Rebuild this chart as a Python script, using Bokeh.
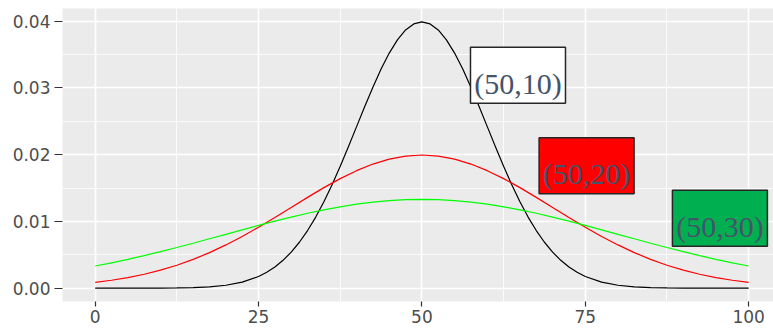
from bokeh.plotting import figure
from bokeh.models import Range1d, FixedTicker
from bokeh.core.properties import value
from bokeh.embed import file_html
from bokeh.resources import INLINE

# ---- data ----
x_vals = [0, 2.5, 5, 7.5, 10, 12.5, 15, 17.5, 20, 22.5, 25, 27.5, 30, 32.5, 35, 37.5, 40,
          42.5, 45, 47.5, 50, 52.5, 55, 57.5, 60, 62.5, 65, 67.5, 70, 72.5, 75, 77.5, 80,
          82.5, 85, 87.5, 90, 92.5, 95, 97.5, 100]

# black curve sampled more finely around its peak
x_sd10 = [0, 2.5, 5, 7.5, 10, 12.5, 15, 17.5, 20, 22.5,
          25, 26.25, 27.5, 28.75, 30, 31.25, 32.5, 33.75, 35, 36.25, 37.5, 38.75, 40,
          41.25, 42.5, 43.75, 45, 46.25, 47.5, 48.75, 50, 51.25, 52.5, 53.75, 55, 56.25,
          57.5, 58.75, 60, 61.25, 62.5, 63.75, 65, 66.25, 67.5, 68.75, 70, 71.25, 72.5,
          73.75, 75,
          77.5, 80, 82.5, 85, 87.5, 90, 92.5, 95, 97.5, 100]

sd10 = [0.00000, 0.00000, 0.00000, 0.00000, 0.00001, 0.00004, 0.00009, 0.00020, 0.00044,
        0.00091,
        0.00175, 0.00238, 0.00317, 0.00417, 0.00540, 0.00688, 0.00863, 0.01065, 0.01295,
        0.01550, 0.01826, 0.02119, 0.02420, 0.02721, 0.03011, 0.03282, 0.03521, 0.03719,
        0.03867, 0.03958, 0.03989, 0.03958, 0.03867, 0.03719, 0.03521, 0.03282, 0.03011,
        0.02721, 0.02420, 0.02119, 0.01826, 0.01550, 0.01295, 0.01065, 0.00863, 0.00688,
        0.00540, 0.00417, 0.00317, 0.00238, 0.00175,
        0.00091, 0.00044, 0.00020, 0.00009, 0.00004, 0.00001, 0.00000, 0.00000, 0.00000,
        0.00000]

sd20 = [0.00088, 0.00119, 0.00159, 0.00209, 0.00270, 0.00344, 0.00431, 0.00533, 0.00648,
        0.00775, 0.00913, 0.01059, 0.01210, 0.01360, 0.01506, 0.01641, 0.01760, 0.01859,
        0.01933, 0.01979, 0.01995, 0.01979, 0.01933, 0.01859, 0.01760, 0.01641, 0.01506,
        0.01360, 0.01210, 0.01059, 0.00913, 0.00775, 0.00648, 0.00533, 0.00431, 0.00344,
        0.00270, 0.00209, 0.00159, 0.00119, 0.00088]

sd30 = [0.00332, 0.00380, 0.00432, 0.00488, 0.00547, 0.00609, 0.00673, 0.00740, 0.00807,
        0.00874, 0.00940, 0.01004, 0.01065, 0.01122, 0.01174, 0.01219, 0.01258, 0.01289,
        0.01311, 0.01325, 0.01330, 0.01325, 0.01311, 0.01289, 0.01258, 0.01219, 0.01174,
        0.01122, 0.01065, 0.01004, 0.00940, 0.00874, 0.00807, 0.00740, 0.00673, 0.00609,
        0.00547, 0.00488, 0.00432, 0.00380, 0.00332]

x_ticks = [0, 25, 50, 75, 100]
y_ticks = [0.00, 0.01, 0.02, 0.03, 0.04]
y_tick_labels = {0.00: "0.00", 0.01: "0.01", 0.02: "0.02", 0.03: "0.03", 0.04: "0.04"}

box_texts = ["(50,10)", "(50,20)", "(50,30)"]

# ---- annotation placement (data coords of box centres) and styles ----
box_x = [64.7, 75.2, 95.6]
box_y = [0.0319, 0.01835, 0.01049]
box_fill = ["#FFFFFF", "#FF0000", "#00B050"]

p = figure(width=773, height=331, output_backend="svg", toolbar_location=None,
           x_range=Range1d(-5, 103.8), y_range=Range1d(-0.001995, 0.041889))
p.min_border_left = 62
p.min_border_right = 0
p.min_border_top = 8
p.min_border_bottom = 30
p.background_fill_color = "#EBEBEB"
p.border_fill_color = "#FFFFFF"
p.outline_line_color = None

p.xaxis.ticker = FixedTicker(ticks=x_ticks, minor_ticks=[12.5, 37.5, 62.5, 87.5])
p.yaxis.ticker = FixedTicker(ticks=y_ticks, minor_ticks=[0.005, 0.015, 0.025, 0.035])
p.yaxis.major_label_overrides = y_tick_labels

for ax in (p.xaxis, p.yaxis):
    ax.axis_line_color = None
    ax.major_tick_line_color = "#333333"
    ax.major_tick_line_width = 1.2
    ax.major_tick_in = 0
    ax.minor_tick_line_color = None
    ax.major_label_text_font = "DejaVu Sans"
    ax.major_label_text_font_size = "17px"
    ax.major_label_text_color = "#4D4D4D"
p.xaxis.major_tick_out = 5
p.xaxis.major_label_standoff = 3
p.yaxis.major_tick_out = 8
p.yaxis.major_label_standoff = 4

p.xgrid.grid_line_color = "white"
p.ygrid.grid_line_color = "white"
p.xgrid.grid_line_width = 1.6
p.ygrid.grid_line_width = 1.6
p.xgrid.minor_grid_line_color = "white"
p.ygrid.minor_grid_line_color = "white"
p.xgrid.minor_grid_line_width = 0.8
p.ygrid.minor_grid_line_width = 0.8

p.line(x_sd10, sd10, line_color="black", line_width=1.2)
p.line(x_vals, sd20, line_color="#FF0000", line_width=1.2)
p.line(x_vals, sd30, line_color="#00FF00", line_width=1.2)

p.rect(x=box_x, y=box_y, width=95, height=56, width_units="screen", height_units="screen",
       fill_color=box_fill, line_color="#262626", line_width=1.5)
p.text(x=box_x, y=box_y, text=box_texts, text_align="center", text_baseline="middle",
       y_offset=8, text_font=value("Liberation Serif"), text_font_size="30px",
       text_color="#44546A")

open("out.html", "w").write(file_html(p, INLINE))
